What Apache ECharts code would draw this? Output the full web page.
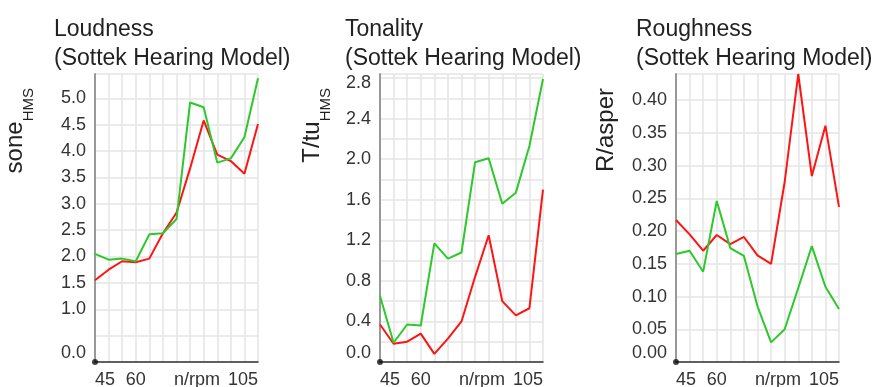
<!DOCTYPE html>
<html>
<head>
<meta charset="utf-8">
<script src="https://cdn.jsdelivr.net/npm/echarts@6.0.0/dist/echarts.min.js"></script>
<style>
  html, body { margin: 0; padding: 0; background: #fff; }
  #chart { width: 883px; height: 387px; }
</style>
</head>
<body>
<div id="chart"></div>
<script>
// rotational speed n/rpm, one measurement every 5 rpm
const rpm = [45, 50, 55, 60, 65, 70, 75, 80, 85, 90, 95, 100, 105];
const rpmTickLabels = [45, 60, 105];
const origin = [45, 0];

const loudnessRed   = [1.55, 1.75, 1.91, 1.89, 1.96, 2.44, 2.83, 3.67, 4.58, 3.93, 3.81, 3.57, 4.51];
const loudnessGreen = [2.05, 1.94, 1.96, 1.91, 2.42, 2.44, 2.71, 4.92, 4.83, 3.78, 3.86, 4.26, 5.38];

const tonalityRed   = [0.37, 0.18, 0.20, 0.28, 0.08, 0.23, 0.40, 0.84, 1.25, 0.60, 0.46, 0.53, 1.70];
const tonalityGreen = [0.65, 0.19, 0.37, 0.36, 1.17, 1.02, 1.08, 1.97, 2.01, 1.56, 1.67, 2.13, 2.79];

const roughnessRed   = [0.217, 0.195, 0.170, 0.194, 0.180, 0.191, 0.163, 0.150, 0.275, 0.440, 0.284, 0.361, 0.237];
const roughnessGreen = [0.165, 0.170, 0.138, 0.246, 0.174, 0.162, 0.085, 0.030, 0.050, 0.113, 0.177, 0.115, 0.081];

const FONT = '"Liberation Sans", Arial, sans-serif';
const RED = '#ff1414';
const GREEN = '#2cc82c';

const panels = [
  {
    title: 'Loudness\n(Sottek Hearing Model)', unit: 'sone', sub: 'HMS',
    max: 5.46, grid: 0.5, labelStep: 0.5, decimals: 1, hide: ['0.5'], down: [],
    red: loudnessRed, green: loudnessGreen,
    left: 95, titleLeft: 54, nameX: 3
  },
  {
    title: 'Tonality\n(Sottek Hearing Model)', unit: 'T/tu', sub: 'HMS',
    max: 2.84, grid: 0.2, labelStep: 0.4, decimals: 1, hide: [], down: ['2.8'],
    red: tonalityRed, green: tonalityGreen,
    left: 380, titleLeft: 345, nameX: 300
  },
  {
    title: 'Roughness\n(Sottek Hearing Model)', unit: 'R/asper', sub: '',
    max: 0.44, grid: 0.05, labelStep: 0.05, decimals: 2, hide: [], down: [],
    red: roughnessRed, green: roughnessGreen,
    left: 676, titleLeft: 636, nameX: 594
  }
];

function pairs(values) {
  return rpm.map((n, i) => [n, values[i]]);
}

function yFormatter(p) {
  return function (v) {
    const k = v / p.labelStep;
    if (Math.abs(k - Math.round(k)) > 1e-6) return '';
    const s = v.toFixed(p.decimals);
    if (p.hide.includes(s)) return '';
    if (Math.abs(v) < 1e-9) return '{z|' + s + '}';
    if (p.down.includes(s)) return '{d|' + s + '}';
    return s;
  };
}

function xFormatter(v) {
  if (!rpmTickLabels.includes(v)) return '';
  if (v === rpmTickLabels[0]) return '{l|' + v + '}';
  if (v === rpmTickLabels[rpmTickLabels.length - 1]) return '{r|' + v + '}';
  return String(v);
}

const tickText = { fontSize: 18, fontFamily: FONT, color: '#333' };

const chart = echarts.init(document.getElementById('chart'));

const option = {
  animation: false,
  backgroundColor: '#fff',
  title: panels.map(p => ({
    text: p.title,
    left: p.titleLeft,
    top: 15,
    padding: 0,
    textStyle: { fontSize: 23, lineHeight: 29, fontWeight: 'normal', color: '#222', fontFamily: FONT }
  })),
  grid: panels.map(p => ({
    left: p.left, top: 74, width: 163, height: 288,
    outerBoundsMode: 'none', containLabel: false
  })),
  xAxis: panels.map((p, i) => ({
    type: 'value', gridIndex: i,
    min: 45, max: 105, interval: 5,
    name: 'n/rpm', nameLocation: 'middle', nameGap: 9, nameMoveOverlap: false,
    nameTextStyle: Object.assign({}, tickText, { padding: [0, 0, 0, 41], verticalAlign: 'top' }),
    axisLine: { show: true, onZero: false, lineStyle: { color: '#333', width: 1.5 } },
    axisTick: { show: false },
    axisLabel: Object.assign({}, tickText, {
      margin: 9,
      formatter: xFormatter,
      rich: {
        l: Object.assign({}, tickText, { padding: [0, 0, 0, 20] }),
        r: Object.assign({}, tickText, { padding: [0, 30, 0, 0] })
      }
    }),
    splitLine: { show: true, lineStyle: { color: '#e4e4e4', width: 1.5 } }
  })),
  yAxis: panels.map((p, i) => ({
    type: 'value', gridIndex: i,
    min: 0, max: p.max, interval: p.grid,
    axisLine: { show: true, onZero: false, lineStyle: { color: '#999', width: 2 } },
    axisTick: { show: false },
    axisLabel: Object.assign({}, tickText, {
      margin: 9,
      showMaxLabel: false,
      formatter: yFormatter(p),
      rich: {
        z: Object.assign({}, tickText, { padding: [0, 0, 18, 0] }),
        d: Object.assign({}, tickText, { padding: [10, 0, 0, 0] })
      }
    }),
    splitLine: { show: true, lineStyle: { color: '#e4e4e4', width: 1.5 } }
  })),
  graphic: panels.map(p => ({
    type: 'text',
    x: p.nameX, y: 88,
    rotation: Math.PI / 2,
    style: {
      text: '{a|' + p.unit + '}' + (p.sub ? '{b|' + p.sub + '}' : ''),
      align: 'right', verticalAlign: 'top',
      font: '24px ' + FONT,
      fill: '#222',
      rich: {
        a: { fontSize: 24, fontFamily: FONT, verticalAlign: 'top', fill: '#222' },
        b: { fontSize: 15, fontFamily: FONT, verticalAlign: 'top', padding: [18, 0, 0, 0], fill: '#222' }
      }
    }
  })),
  series: panels.flatMap((p, i) => [
    {
      type: 'line', xAxisIndex: i, yAxisIndex: i,
      data: pairs(p.red), symbol: 'none',
      lineStyle: { color: RED, width: 2 }, itemStyle: { color: RED }
    },
    {
      type: 'line', xAxisIndex: i, yAxisIndex: i,
      data: pairs(p.green), symbol: 'none',
      lineStyle: { color: GREEN, width: 2 }, itemStyle: { color: GREEN }
    },
    {
      type: 'scatter', xAxisIndex: i, yAxisIndex: i,
      data: [origin], symbol: 'circle', symbolSize: 6, clip: false, z: 10,
      itemStyle: { color: '#111' }
    }
  ])
};

chart.setOption(option);
</script>
</body>
</html>
